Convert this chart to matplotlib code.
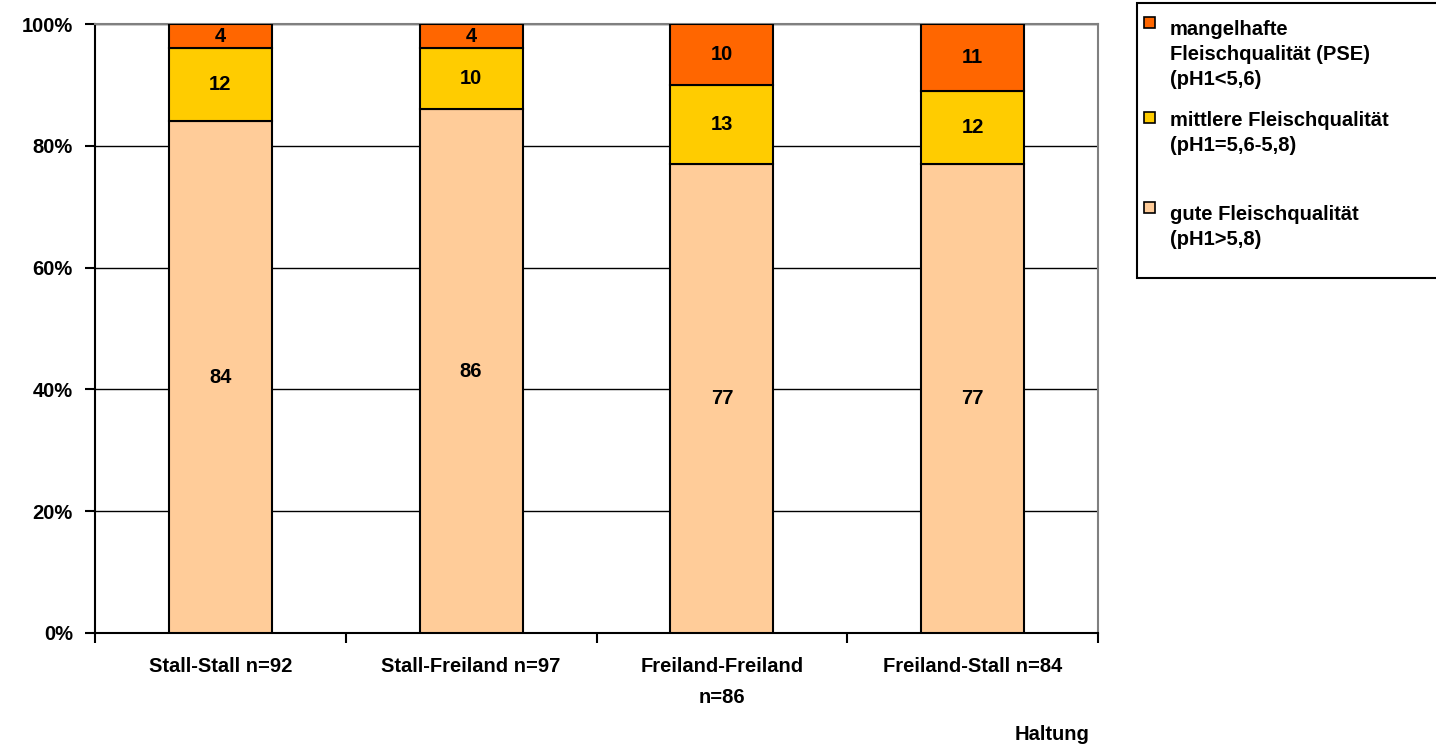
import matplotlib.pyplot as plt
import numpy as np
from matplotlib.patches import Rectangle
from matplotlib.ticker import PercentFormatter

plt.rcParams['font.family'] = ['Liberation Sans', 'DejaVu Sans']
plt.rcParams['font.weight'] = 'bold'

# Daten (Anteile in %)
kategorien = ['Stall-Stall n=92', 'Stall-Freiland n=97', 'Freiland-Freiland\nn=86', 'Freiland-Stall n=84']
gut = [84, 86, 77, 77]
mittel = [12, 10, 13, 12]
mangel = [4, 4, 10, 11]

legende = ['mangelhafte\nFleischqualität (PSE)\n(pH1<5,6)',
           'mittlere Fleischqualität\n(pH1=5,6-5,8)',
           'gute Fleischqualität\n(pH1>5,8)']
farben = ['#FF6600', '#FFCC00', '#FFCC99']

fs = 14.5
W, H = 1436, 745
fig = plt.figure(figsize=(W / 100, H / 100), dpi=100)
ax = fig.add_axes([95 / W, 1 - 633 / H, (1098 - 95) / W, (633 - 24) / H])

x = np.arange(len(kategorien))
b = 0.41
unten = np.zeros(len(x))
for werte, farbe in zip([gut, mittel, mangel], farben[::-1]):
    ax.bar(x, werte, b, bottom=unten, color=farbe, edgecolor='black', linewidth=1.5, zorder=3)
    for xi, v, u in zip(x, werte, unten):
        ax.text(xi, u + v / 2, str(v), ha='center', va='center', fontsize=fs, fontweight='bold', zorder=4)
    unten = unten + np.array(werte)

ax.set_xlim(-0.5, 3.5)
ax.set_ylim(0, 100)
ax.set_yticks([0, 20, 40, 60, 80, 100])
ax.yaxis.set_major_formatter(PercentFormatter(decimals=0))
ax.yaxis.grid(True, color='black', linewidth=1)
ax.set_axisbelow(True)

ax.set_xticks([-0.5, 0.5, 1.5, 2.5, 3.5])
ax.set_xticklabels([])
ax.set_xticks(x, minor=True)
ax.set_xticklabels(kategorien, minor=True, fontsize=fs, fontweight='bold', linespacing=1.8)
ax.tick_params(axis='x', which='major', direction='out', length=7, width=1.5, color='black')
ax.tick_params(axis='x', which='minor', length=0, pad=17)
ax.tick_params(axis='y', direction='out', length=7, width=1.5, pad=9, labelsize=fs)
for lab in ax.get_yticklabels():
    lab.set_fontweight('bold')

ax.spines['left'].set_linewidth(1.5)
ax.spines['bottom'].set_linewidth(1.5)
ax.spines['top'].set_color('#808080')
ax.spines['right'].set_color('#808080')
ax.spines['top'].set_linewidth(1.5)
ax.spines['right'].set_linewidth(1.5)

fig.text(1090 / W, 1 - 735 / H, 'Haltung', ha='right', va='center', fontsize=fs, fontweight='bold')

# Legende (rechts, abgeschnitten wie im Original)
fig.add_artist(Rectangle((1137 / W, 1 - 278 / H), 320 / W, 275 / H, transform=fig.transFigure,
                         facecolor='white', edgecolor='black', linewidth=1.5))
quadrat_oben = [17, 112, 202]
text_oben = [20, 111, 205]
for txt, farbe, qo, to in zip(legende, farben, quadrat_oben, text_oben):
    fig.add_artist(Rectangle((1144 / W, 1 - (qo + 11) / H), 11 / W, 11 / H, transform=fig.transFigure,
                             facecolor=farbe, edgecolor='black', linewidth=1.2))
    fig.text(1170 / W, 1 - to / H, txt, ha='left', va='top', fontsize=fs, fontweight='bold',
             linespacing=1.4)

fig.savefig('out.png', dpi=100)
